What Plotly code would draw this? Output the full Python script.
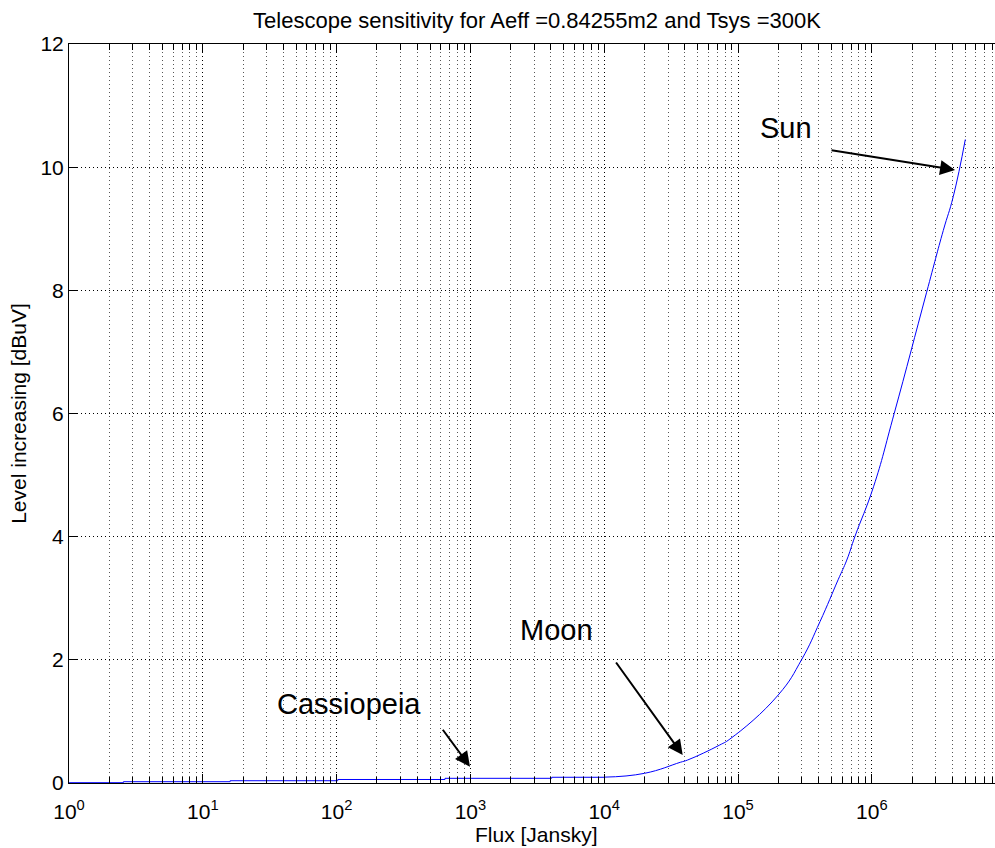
import math
import plotly.graph_objects as go

# ---------------- data ----------------
title_text = "Telescope sensitivity for Aeff =0.84255m2 and Tsys =300K"
x_label = "Flux [Jansky]"
y_label = "Level increasing [dBuV]"

# quantised low-flux part (stairs)
step_flux = [1, 2.55, 16, 102, 646, 4050, 1.0e4]
step_level = [0.005, 0.021, 0.037, 0.057, 0.076, 0.093, 0.095]

# smooth part
curve_flux = [1.0e4, 2.0e4, 3.7e4, 4.2e4, 7.3e4, 8.7e4, 2.0e5, 3.0e5, 4.1e5,
              5.6e5, 6.5e5, 7.5e5, 1.03e6, 1.47e6, 2.57e6, 3.42e6, 4.06e6, 5.0e6]
curve_level = [0.095, 0.157, 0.336, 0.373, 0.617, 0.714, 1.43, 2.01, 2.62,
               3.30, 3.62, 4.01, 4.81, 6.0, 7.97, 8.97, 9.52, 10.45]

major_ticks = [1, 10, 100, 1e3, 1e4, 1e5, 1e6]
major_text = ["10<sup>%d</sup>" % k for k in range(7)]
minor_ticks = [m * 10 ** k for k in range(7) for m in range(2, 10)]
y_ticks = [0, 2, 4, 6, 8, 10, 12]

labels = ["Cassiopeia", "Moon", "Sun"]
label_tip_flux = [993, 3.86e4, 4.19e6]
label_tip_level = [0.265, 0.455, 9.955]

# ---------------- layout geometry ----------------
W, H = 995, 848
L, T, B = 69, 44, 65
PW, PH = W - L, H - T - B
X_RANGE = [0, PW / 133.8]


def xp(px):
    return (px - L) / PW


def yp(py):
    return (H - B - py) / PH


FONT = "Liberation Sans, Arial, sans-serif"
BLUE = "#0000ff"

fig = go.Figure()
fig.add_trace(go.Scatter(x=step_flux, y=step_level, mode="lines",
                         line=dict(color=BLUE, width=1, shape="hv"),
                         showlegend=False, hoverinfo="x+y"))
fig.add_trace(go.Scatter(x=curve_flux, y=curve_level, mode="lines",
                         line=dict(color=BLUE, width=1, shape="spline", smoothing=1.3),
                         showlegend=False, hoverinfo="x+y"))
# invisible copy bound to the tick-only overlay axis so it is always drawn
fig.add_trace(go.Scatter(x=curve_flux, y=curve_level, mode="lines", xaxis="x2",
                         line=dict(color="rgba(0,0,0,0)", width=0),
                         showlegend=False, hoverinfo="skip"))

# white text boxes hiding the grid
boxes = [(270, 684, 478, 745), (515, 610, 644, 670), (741, 107, 851, 163)]
for (x0, y0, x1, y1) in boxes:
    fig.add_shape(type="rect", xref="paper", yref="paper",
                  x0=xp(x0), x1=xp(x1), y0=yp(y1), y1=yp(y0),
                  fillcolor="white", line=dict(width=0), layer="between")

# label texts
text_pos = [(349, 704), (556, 630), (785.5, 128)]
for lab, (cx, cy) in zip(labels, text_pos):
    fig.add_annotation(text=lab, xref="paper", yref="paper", x=xp(cx), y=yp(cy),
                       xanchor="center", yanchor="middle", showarrow=False,
                       font=dict(family=FONT, size=29, color="black"))

# arrows
tails = [(-28.3, -38.4), (-67.7, -94), (-125, -20)]
for fx, lv, (ax, ay) in zip(label_tip_flux, label_tip_level, tails):
    fig.add_annotation(x=math.log10(fx), y=lv, xref="x", yref="y", text="",
                       showarrow=True, ax=ax, ay=ay, arrowhead=2, arrowsize=1.5,
                       arrowwidth=2, arrowcolor="black", standoff=0)

# x axis title (placed like the reference, centred on the full MATLAB axes)
fig.add_annotation(text=x_label, xref="paper", yref="paper", x=xp(536), y=yp(834),
                   xanchor="center", yanchor="middle", showarrow=False,
                   font=dict(family=FONT, size=21, color="black"))

grid_dash = "1px,3px"
tick_font = dict(family=FONT, size=21, color="black")
fig.update_layout(
    width=W, height=H,
    margin=dict(l=L, r=0, t=T, b=B, autoexpand=False),
    paper_bgcolor="white", plot_bgcolor="white",
    font=dict(family=FONT, size=21, color="black"),
    title=dict(text=title_text, x=537 / W, xanchor="center",
               y=1 - 20 / H, yanchor="middle",
               font=dict(family=FONT, size=22, color="black")),
    # labels + grid axis (transparent outside ticks push the labels down)
    xaxis=dict(type="log", range=X_RANGE, tickmode="array",
               tickvals=major_ticks, ticktext=major_text,
               ticks="outside", ticklen=10, tickcolor="rgba(0,0,0,0)",
               showline=False,
               showgrid=True, gridcolor="#000000", gridwidth=1, griddash=grid_dash,
               zeroline=False,
               minor=dict(tickmode="array", tickvals=minor_ticks, ticks="",
                          showgrid=True, gridcolor="#555555", gridwidth=1,
                          griddash=grid_dash),
               tickfont=tick_font),
    # visible inside ticks / box lines
    xaxis2=dict(type="log", range=X_RANGE, overlaying="x", anchor="y", side="bottom",
                tickmode="array", tickvals=major_ticks, showticklabels=False,
                ticks="inside", ticklen=9, tickwidth=1, tickcolor="black",
                showline=True, linecolor="black", linewidth=1, mirror="ticks",
                showgrid=False, zeroline=False,
                minor=dict(tickmode="array", tickvals=minor_ticks, ticks="inside",
                           ticklen=6, tickcolor="black", showgrid=False)),
    yaxis=dict(range=[0, 12], tickmode="array", tickvals=y_ticks,
               ticks="inside", ticklen=9, tickwidth=1, tickcolor="black",
               showline=True, linecolor="black", linewidth=1, mirror=False,
               showgrid=True, gridcolor="#000000", gridwidth=1, griddash=grid_dash,
               zeroline=False,
               title=dict(text=y_label, standoff=8,
                          font=dict(family=FONT, size=21, color="black")),
               tickfont=tick_font),
)

fig.write_html("out.html",
               config={"displayModeBar": False},
               post_script="document.body.style.margin='0px';"
                           "document.body.style.overflow='hidden';")
